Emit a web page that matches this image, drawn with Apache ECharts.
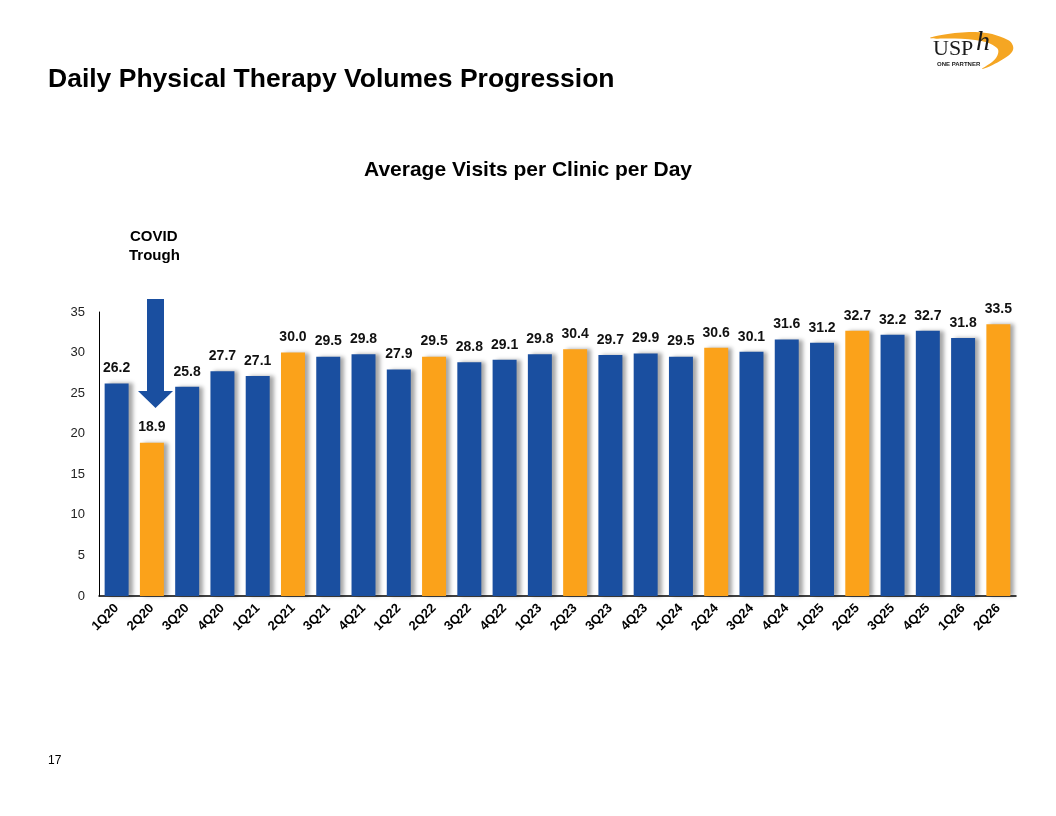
<!DOCTYPE html>
<html>
<head>
<meta charset="utf-8">
<script src="https://cdn.jsdelivr.net/npm/echarts@6/dist/echarts.min.js"></script>
<style>
  html, body { margin: 0; padding: 0; background: #fff; }
  #chart { width: 1056px; height: 816px; }
</style>
</head>
<body>
<div id="chart"></div>
<script>
// Quarters shown on the x axis
const quarters = ['1Q20', '2Q20', '3Q20', '4Q20', '1Q21', '2Q21', '3Q21', '4Q21', '1Q22', '2Q22',
  '3Q22', '4Q22', '1Q23', '2Q23', '3Q23', '4Q23', '1Q24', '2Q24', '3Q24', '4Q24',
  '1Q25', '2Q25', '3Q25', '4Q25', '1Q26', '2Q26'];

// Average visits per clinic per day
const visits = [26.2, 18.9, 25.8, 27.7, 27.1, 30.0, 29.5, 29.8, 27.9, 29.5,
  28.8, 29.1, 29.8, 30.4, 29.7, 29.9, 29.5, 30.6, 30.1, 31.6,
  31.2, 32.7, 32.2, 32.7, 31.8, 33.5];

const yTicks = [0, 5, 10, 15, 20, 25, 30, 35];

const blue = '#1a4fa0';
const orange = '#fba21a';
const font = 'Liberation Sans, Arial, sans-serif';

const chart = echarts.init(document.getElementById('chart'));

// 2Q bars are orange, the rest blue
const barData = visits.map((v, i) => ({
  value: v,
  itemStyle: { color: quarters[i].startsWith('2Q') ? orange : blue }
}));

const options = {
  backgroundColor: '#fff',
  animation: false,
  textStyle: { fontFamily: font },
  title: [
    {
      text: 'Daily Physical Therapy Volumes Progression',
      left: 48, top: 66, padding: 0,
      textStyle: { fontSize: 26.5, fontWeight: 'bold', color: '#000', fontFamily: font }
    },
    {
      text: 'Average Visits per Clinic per Day',
      left: 'center', top: 160, padding: 0,
      textStyle: { fontSize: 21, fontWeight: 'bold', color: '#000', fontFamily: font }
    }
  ],
  grid: { left: 99, right: 40, top: 312, bottom: 220 },
  xAxis: {
    type: 'category',
    data: quarters,
    axisLine: { lineStyle: { color: '#000', width: 1.5 } },
    axisTick: { show: false },
    axisLabel: {
      rotate: 45, interval: 0, margin: 10,
      fontSize: 13, fontWeight: 'bold', color: '#000'
    }
  },
  yAxis: {
    type: 'value',
    min: yTicks[0],
    max: yTicks[yTicks.length - 1],
    interval: 5,
    splitLine: { show: false },
    axisLine: { show: true, lineStyle: { color: '#000', width: 1 } },
    axisTick: { show: false },
    axisLabel: { fontSize: 13, color: '#222', margin: 14 }
  },
  series: [
    {
      type: 'bar',
      data: barData,
      barWidth: '68%',
      itemStyle: {
        shadowColor: 'rgba(0,0,0,0.35)',
        shadowBlur: 4,
        shadowOffsetX: 4,
        shadowOffsetY: 0
      },
      label: {
        show: true,
        position: 'top',
        distance: 8,
        fontSize: 14,
        fontWeight: 'bold',
        color: '#111',
        formatter: p => p.value.toFixed(1)
      }
    }
  ],
  graphic: [
    // COVID note and arrow
    {
      type: 'text', left: 130, top: 229,
      style: { text: 'COVID', font: 'bold 15px ' + font, fill: '#000' }
    },
    {
      type: 'text', left: 129, top: 248,
      style: { text: 'Trough', font: 'bold 15px ' + font, fill: '#000' }
    },
    {
      type: 'polygon',
      shape: { points: [[147, 299], [164, 299], [164, 391], [173, 391], [155.5, 408], [138, 391], [147, 391]] },
      style: { fill: blue }
    },
    // logo swoosh
    {
      type: 'polygon',
      shape: {
        points: [[930, 38], [975, 32], [1008, 40], [1013, 50], [1000, 61], [982, 69],
          [996, 58], [997, 48], [975, 40]],
        smooth: 0.4
      },
      style: { fill: '#f5a623' }
    },
    {
      type: 'text', left: 933, top: 38,
      style: { text: 'USP', font: '22px Liberation Serif, serif', fill: '#1b1b1b' }
    },
    {
      type: 'text', left: 976, top: 29,
      style: { text: 'h', font: 'italic 28px Liberation Serif, serif', fill: '#1b1b1b' }
    },
    {
      type: 'text', left: 937, top: 61,
      style: { text: 'ONE PARTNER', font: 'bold 6px ' + font, fill: '#1b1b1b' }
    },
    // page number
    {
      type: 'text', left: 48, top: 755,
      style: { text: '17', font: '12px ' + font, fill: '#000' }
    }
  ]
};

chart.setOption(options);

window.addEventListener('resize', () => {
  chart.resize();
});
</script>
</body>
</html>
